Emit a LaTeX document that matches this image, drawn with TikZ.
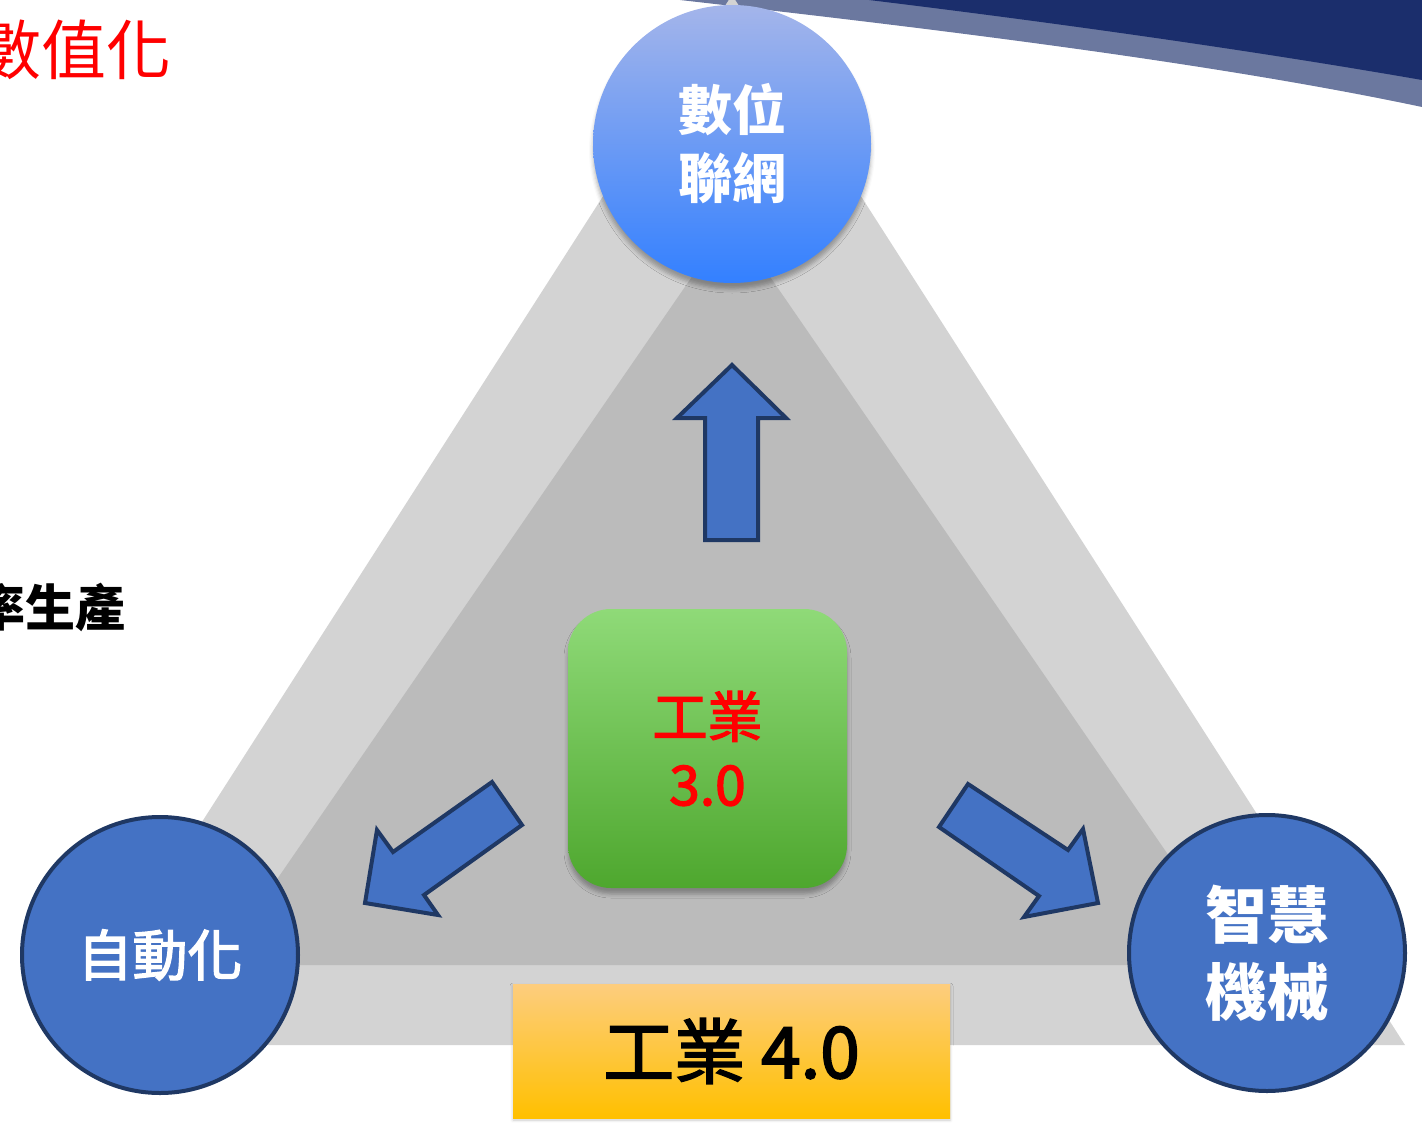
\documentclass[tikz,border=0pt]{standalone}
\usepackage{fontspec}
\setmainfont{Noto Sans CJK TC}
\newfontfamily\midweight{Noto Sans CJK TC}[FakeBold=2.5]
\usetikzlibrary{shadows.blur}

\definecolor{paleGray}{RGB}{211,211,211}
\definecolor{midGray}{RGB}{187,187,187}
\definecolor{boxBlue}{RGB}{68,114,196}
\definecolor{edgeBlue}{RGB}{31,56,100}
\definecolor{navyBand}{RGB}{27,46,108}
\definecolor{slateBand}{RGB}{107,120,159}
\definecolor{netTop}{RGB}{164,181,234}
\definecolor{netBottom}{RGB}{51,128,255}
\definecolor{greenTop}{RGB}{143,218,120}
\definecolor{greenBottom}{RGB}{78,167,46}
\definecolor{goldTop}{RGB}{253,205,126}
\definecolor{goldBottom}{RGB}{255,192,0}

\tikzset{
  blockarrow/.style={fill=boxBlue, draw=edgeBlue, line width=4, line join=miter},
  bluecircle/.style={circle, fill=boxBlue, draw=edgeBlue, line width=4, minimum size=276, inner sep=0, text=white, align=center},
  softshadow/.style={blur shadow={shadow xshift=0pt, shadow yshift=-6pt, shadow blur radius=4pt, shadow blur extra rounding=0pt, shadow opacity=30}},
}

\begin{document}
\begin{tikzpicture}[x=1pt,y=1pt,yscale=-1,xscale=1]
\useasboundingbox (0,0) rectangle (1422,1124);

%Shape: Band [id:band1]
\fill [slateBand] (680,0) .. controls (900,25) and (1200,60) .. (1422,107) -- (1422,0) -- cycle ;
\fill [navyBand] (869,0) .. controls (1050,22) and (1250,50) .. (1422,80) -- (1422,0) -- cycle ;

%Shape: Triangle [id:outer]
\fill [paleGray] (732,-5) -- (1405,1045) -- (59,1045) -- cycle ;
%Shape: Triangle [id:inner]
\fill [midGray] (731,220) -- (1244,965) -- (218,965) -- cycle ;

%Shape: Up Arrow [id:toNet]
\draw [blockarrow] (705,540) -- (705,418) -- (677,418) -- (732,365) -- (786,418) -- (758,418) -- (758,540) -- cycle ;
%Shape: Arrow [id:toAuto]
\draw [blockarrow] (492,782) -- (522,825) -- (424,895) -- (438,915) -- (365,903) -- (377,830) -- (393,852) -- cycle ;
%Shape: Arrow [id:toSmart]
\draw [blockarrow] (968,784) -- (1068,850) -- (1083,829) -- (1098,903) -- (1024,917) -- (1039,896) -- (939,827) -- cycle ;

%Shape: Circle [id:net]
\node (net) at (732,144) [circle, minimum size=278, inner sep=0, top color=netTop, bottom color=netBottom, softshadow, text=white, align=center, font=\fontsize{54}{68}\selectfont\bfseries] {數位\\聯網};
%Shape: Circle [id:auto]
\node (auto) at (160,955) [bluecircle, font=\fontsize{55}{68}\selectfont\midweight] {自動化};
%Shape: Circle [id:smart]
\node (smart) at (1267,953) [bluecircle, font=\fontsize{62}{77}\selectfont\bfseries] {智慧\\機械};

%Shape: Rounded Rect [id:gen3]
\node (gen3) at (707.5,748.5) [rectangle, rounded corners=43, minimum width=279, minimum height=279, inner sep=0, top color=greenTop, bottom color=greenBottom, softshadow, text=red, align=center, font=\fontsize{55}{68}\selectfont\midweight] {工業\\3.0};

%Shape: Rectangle [id:gen4]
\node (gen4) at (731.5,1051) [rectangle, minimum width=437, minimum height=134, inner sep=0, top color=goldTop, bottom color=goldBottom, blur shadow={shadow xshift=0pt, shadow yshift=-2pt, shadow blur radius=3pt, shadow opacity=20}, font=\fontsize{71}{80}\selectfont\midweight] {工業 4.0};

% Text Node
\node (digit) at (172,50) [anchor=east, inner sep=0, text=red, font=\fontsize{65}{70}\selectfont] {數值化};
% Text Node
\node (lean) at (126,607) [anchor=east, inner sep=0, font=\fontsize{50}{56}\selectfont\bfseries] {率生產};

\end{tikzpicture}
\end{document}
